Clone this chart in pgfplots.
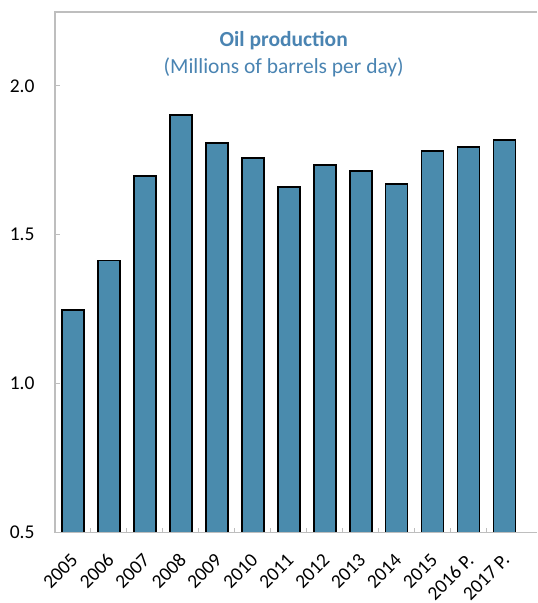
\documentclass[border=0pt]{standalone}
\usepackage{pgfplots}
\pgfplotsset{compat=1.18}
\usepackage{fontspec}
\setmainfont{Carlito}
\definecolor{barblue}{HTML}{4A8BAD}
\definecolor{titleblue}{HTML}{4A84B2}
\definecolor{axisgray}{HTML}{BEBEBE}
\begin{document}
\begin{tikzpicture}[font=\fontsize{19.5}{23}\selectfont]
\begin{axis}[
  at={(0,0)}, anchor=south west,
  scale only axis,
  width=473pt, height=521pt,
  xmin=-0.5, xmax=12.64,
  ymin=0.5, ymax=2.248,
  axis line style={draw=none},
  xtick={0,...,12},
  xticklabels={2005,2006,2007,2008,2009,2010,2011,2012,2013,2014,2015,2016 P.,2017 P.},
  major x tick style={draw=none},
  minor xtick={0.5,1.5,...,11.5},
  minor x tick style={axisgray, line width=1pt},
  minor tick length=5pt,
  x tick label style={xshift=-3pt, yshift=-18pt, rotate=45, anchor=north east, inner sep=1pt},
  ytick={0.5,1.0,1.5,2.0},
  y tick style={axisgray, line width=1pt},
  major tick length=5pt,
  tick align=inside,
  yticklabel style={/pgf/number format/.cd, fixed, fixed zerofill, precision=1, /tikz/.cd, xshift=-17pt},
  /pgf/number format/assume math mode=true,
  ytick pos=left, xtick pos=bottom,
  clip=false,
]
\addplot[ybar, bar width=22pt, fill=barblue, draw=black, line width=1.6pt]
  coordinates {
  (0,1.248) (1,1.413) (2,1.698) (3,1.903) (4,1.809) (5,1.758) (6,1.661)
  (7,1.735) (8,1.715) (9,1.671) (10,1.782) (11,1.795) (12,1.819)
  };
% frame: left, top and bottom edges
\draw[axisgray, line width=1.3pt] (rel axis cs:1.02,1) -- (rel axis cs:0,1) -- (rel axis cs:0,0) -- (rel axis cs:1.02,0);
\node[font=\fontsize{21.5}{25}\selectfont\bfseries, text=titleblue] at (rel axis cs:0.484,0.945) {Oil production};
\node[font=\fontsize{21.5}{25}\selectfont, text=titleblue] at (rel axis cs:0.484,0.893) {(Millions of barrels per day)};
\end{axis}
\path[use as bounding box] (-55pt,-70pt) rectangle (473pt,533pt);
\end{tikzpicture}
\end{document}
